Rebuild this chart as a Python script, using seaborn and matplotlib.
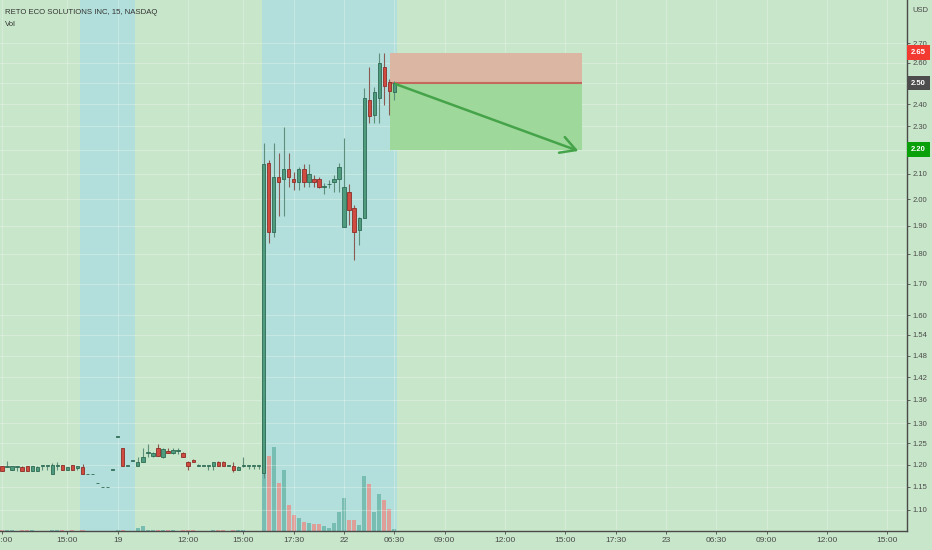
import numpy as np
import pandas as pd
import matplotlib
matplotlib.use("Agg")
import matplotlib.pyplot as plt
import matplotlib.transforms as mtransforms
import seaborn as sns

# RETO 15 min bars (bar index = slot on the time axis)
opens = [1.197, 1.195, 1.188, 1.195, 1.195, 1.197, 1.186, 1.186, 1.197, 1.197,
         1.178, 1.197, 1.199, 1.188, 1.199, 1.193, 1.195, 1.178, 1.178, 1.158,
         1.149, 1.149, 1.188, 1.266, 1.239, 1.197, 1.209, 1.196, 1.207, 1.228,
         1.220, 1.239, 1.217, 1.232, 1.227, 1.232, 1.228, 1.207, 1.212, 1.197,
         1.197, 1.197, 1.196, 1.207, 1.207, 1.197, 1.197, 1.188, 1.197, 1.197,
         1.197, 1.197, 1.180, 2.144, 1.878, 2.086, 2.078, 2.120, 2.078, 2.066,
         2.120, 2.066, 2.078, 2.078, 2.048, 2.058, 2.066, 2.078, 1.895, 2.027,
         1.965, 1.884, 1.928, 2.420, 2.351, 2.429, 2.578, 2.507, 2.455]
highs = [1.198, 1.209, 1.198, 1.195, 1.196, 1.198, 1.198, 1.196, 1.197, 1.197,
         1.203, 1.207, 1.199, 1.195, 1.199, 1.197, 1.201, 1.178, 1.178, 1.158,
         1.149, 1.149, 1.188, 1.266, 1.239, 1.197, 1.209, 1.217, 1.239, 1.249,
         1.229, 1.249, 1.238, 1.239, 1.239, 1.238, 1.229, 1.208, 1.213, 1.201,
         1.197, 1.197, 1.207, 1.208, 1.208, 1.197, 1.207, 1.196, 1.217, 1.197,
         1.197, 1.197, 2.228, 2.157, 2.228, 2.186, 2.297, 2.186, 2.106, 2.128,
         2.140, 2.140, 2.094, 2.086, 2.062, 2.074, 2.094, 2.144, 2.249, 2.058,
         1.976, 1.932, 2.476, 2.578, 2.481, 2.649, 2.649, 2.520, 2.510]
lows = [1.185, 1.194, 1.187, 1.186, 1.185, 1.186, 1.186, 1.186, 1.188, 1.188,
        1.178, 1.188, 1.188, 1.188, 1.188, 1.188, 1.178, 1.178, 1.178, 1.158,
        1.149, 1.149, 1.188, 1.266, 1.197, 1.197, 1.209, 1.196, 1.207, 1.217,
        1.219, 1.220, 1.216, 1.227, 1.224, 1.225, 1.217, 1.188, 1.206, 1.197,
        1.197, 1.188, 1.188, 1.196, 1.196, 1.197, 1.183, 1.187, 1.195, 1.190,
        1.190, 1.190, 1.170, 1.838, 1.860, 1.935, 1.935, 2.046, 2.034, 2.034,
        2.046, 2.046, 2.046, 2.042, 2.019, 2.042, 2.027, 2.027, 1.895, 1.903,
        1.779, 1.831, 1.928, 2.317, 2.317, 2.317, 2.397, 2.351, 2.420]
closes = [1.186, 1.196, 1.197, 1.195, 1.186, 1.186, 1.197, 1.195, 1.197, 1.197,
          1.199, 1.197, 1.188, 1.195, 1.188, 1.197, 1.178, 1.178, 1.178, 1.158,
          1.149, 1.149, 1.188, 1.266, 1.197, 1.197, 1.209, 1.207, 1.218, 1.228,
          1.228, 1.221, 1.237, 1.228, 1.234, 1.232, 1.217, 1.196, 1.207, 1.197,
          1.197, 1.197, 1.207, 1.197, 1.197, 1.197, 1.188, 1.195, 1.197, 1.197,
          1.197, 1.197, 2.140, 1.878, 2.086, 2.066, 2.120, 2.086, 2.066, 2.120,
          2.066, 2.098, 2.066, 2.046, 2.052, 2.058, 2.078, 2.128, 2.046, 1.958,
          1.878, 1.928, 2.429, 2.346, 2.457, 2.598, 2.486, 2.460, 2.500]
volume = [15, 8, 10, 6, 12, 14, 8, 6, 5, 5, 18, 9, 12, 6, 10, 7, 20, 4, 4, 6,
          5, 5, 4, 8, 15, 4, 6, 45, 75, 12, 10, 14, 12, 8, 9, 6, 12, 20, 10, 5,
          5, 6, 18, 12, 10, 5, 14, 8, 10, 6, 6, 6,
          1995, 1125, 1260, 720, 915, 390, 240, 195, 135, 120, 105, 105, 75, 45,
          120, 285, 495, 165, 165, 90, 825, 705, 285, 555, 465, 330, 30]

tick_idx = [0, 13, 23, 37, 48, 58, 68, 78, 88, 100, 112, 122, 132, 142, 152, 164, 176]
tick_lab = ["12:00", "15:00", "19", "12:00", "15:00", "17:30", "22", "06:30", "09:00",
            "12:00", "15:00", "17:30", "23", "06:30", "09:00", "12:00", "15:00"]
price_ticks = [2.70, 2.60, 2.50, 2.40, 2.30, 2.20, 2.10, 2.00, 1.90, 1.80, 1.70,
               1.60, 1.54, 1.48, 1.42, 1.36, 1.30, 1.25, 1.20, 1.15, 1.10]

# extended hours sessions (bar index ranges)
ext_sessions = [(15.6, 26.4), (51.6, 78.5)]

# short position drawing
entry, stop, target = 2.50, 2.65, 2.20
pos_start, pos_end = 77.1, 115.3

df = pd.DataFrame({"idx": np.arange(len(opens)), "open": opens, "high": highs,
                   "low": lows, "close": closes, "vol": volume})
df["dir"] = np.where(df["close"] >= df["open"], "up", "down")

sns.set_theme(style="white")
plt.rcParams["font.family"] = ["Liberation Sans", "DejaVu Sans"]

bg = "#c8e6c9"
fig = plt.figure(figsize=(9.32, 5.5), dpi=100)
fig.patch.set_facecolor(bg)
ax = fig.add_axes([0, 19 / 550, 907 / 932, 531 / 550])
ax_v = ax.twinx()
ax.set_zorder(ax_v.get_zorder() + 1)
ax.patch.set_visible(False)
ax_v.set_facecolor(bg)

# sessions
for s0, s1 in ext_sessions:
    ax_v.axvspan(s0, s1, color="#b2dfdb", lw=0, zorder=0)

# volume
sns.barplot(data=df, x="idx", y="vol", hue="dir", native_scale=True, dodge=False,
            palette={"up": "#6cc9b8", "down": "#ea968d"}, width=0.8, errorbar=None,
            legend=False, linewidth=0, ax=ax_v)
ax_v.set_ylim(0, 7965)
ax_v.set_yticks([])
ax_v.set_xlabel("")
ax_v.set_ylabel("")
for sp in ax_v.spines.values():
    sp.set_visible(False)

# candles
up = df["dir"] == "up"
fill = np.where(up, "#4f9b7e", "#d04b40")
edge = np.where(up, "#2e6a54", "#8d2e27")
wick = np.where(up, "#5e8f7d", "#8a5a52")
ax.vlines(df["idx"], df["low"], df["high"], colors=wick, lw=0.8, zorder=3)
body_lo = df[["open", "close"]].min(axis=1)
body_h = (df["open"] - df["close"]).abs().clip(lower=0.0015)
ax.bar(df["idx"], body_h, bottom=body_lo, width=0.66, color=fill,
       edgecolor=edge, linewidth=0.6, zorder=4)

# position tool
ax.fill_between([pos_start, pos_end], entry, stop, color="#dbb6a2", lw=0, zorder=2)
ax.fill_between([pos_start, pos_end], target, entry, color="#9ed89b", lw=0, zorder=2)
ax.hlines(entry, pos_start, pos_end, color="#c4695d", lw=1.5, zorder=2.5)
ax.annotate("", xy=(115.1, 2.19), xytext=(77.7, entry),
            arrowprops=dict(arrowstyle="->,head_length=0.9,head_width=0.5",
                            color="#45a349", lw=1.8), zorder=6)

# axes
ax.set_yscale("log")
ax.set_ylim(1.0563, 2.933)
ax.set_xlim(-0.4, 179.9)
ax.yaxis.tick_right()
ax.yaxis.set_label_position("right")
ax.set_yticks(price_ticks)
ax.set_yticklabels([f"{p:.2f}" for p in price_ticks])
ax.yaxis.set_minor_locator(matplotlib.ticker.NullLocator())
ax.set_xticks(tick_idx)
ax.set_xticklabels(tick_lab)
ax.tick_params(axis="y", right=True, length=2.5, pad=1.5, labelsize=5.5,
               colors="#4a4a4a", width=0.6)
ax.tick_params(axis="x", bottom=True, length=2.5, pad=2, labelsize=6,
               colors="#4a4a4a", width=0.6)
ax.grid(True, color="white", alpha=0.28, lw=0.8)
for k in ["top", "left"]:
    ax.spines[k].set_visible(False)
for k in ["right", "bottom"]:
    ax.spines[k].set_color("#4a4a4a")
    ax.spines[k].set_linewidth(1)

# price labels on the scale
trans = mtransforms.blended_transform_factory(ax.transAxes, ax.transData)
for val, col in [(stop, "#f23a30"), (entry, "#4d4d4d"), (target, "#0aa00a")]:
    ax.text(1.0044, val, f"{val:.2f}", transform=trans, fontsize=5.5,
            color="white", fontweight="bold", va="center", ha="left",
            bbox=dict(boxstyle="square,pad=0.5", fc=col, ec="none"),
            zorder=10, clip_on=False)

fig.text(920 / 932, 1 - 11 / 550, "USD", fontsize=5.5, color="#4a4a4a",
         ha="center", va="center")
fig.text(5 / 932, 1 - 12 / 550, "RETO ECO SOLUTIONS INC, 15, NASDAQ",
         fontsize=5.6, color="#333333", ha="left", va="center")
fig.text(5 / 932, 1 - 24 / 550, "Vol", fontsize=5.6, color="#333333",
         ha="left", va="center")

fig.savefig("out.png", dpi=100, facecolor=bg)
